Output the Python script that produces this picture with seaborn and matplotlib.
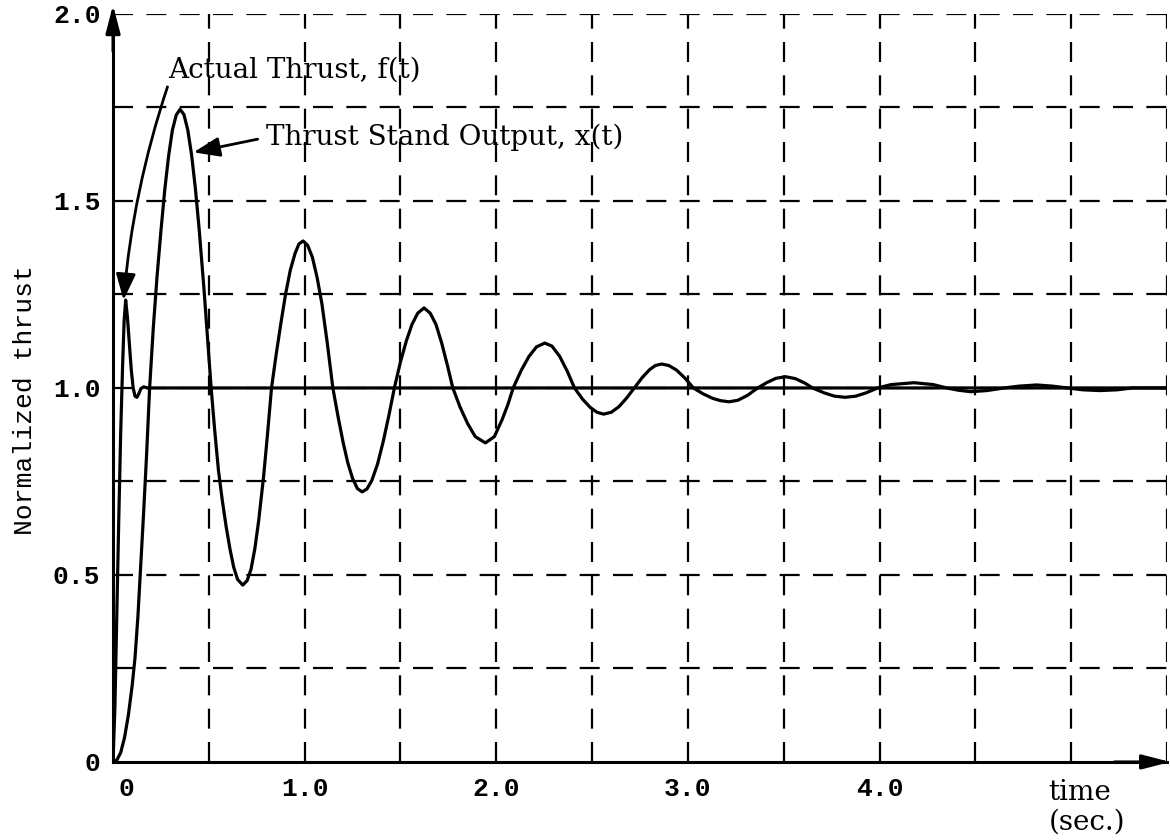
import matplotlib
matplotlib.use("Agg")
import matplotlib.pyplot as plt
import matplotlib.transforms as mtransforms
import seaborn as sns

sns.set_style("white")
plt.rcParams.update({"text.color": "black", "axes.labelcolor": "black",
                     "xtick.color": "black", "ytick.color": "black"})

# -------------------------------Datos

# Thrust stand output x(t)
t_stand = [
    0.000, 0.020, 0.040, 0.060, 0.080, 0.100, 0.115, 0.130, 0.145, 0.160, 0.175, 0.191,
    0.210, 0.230, 0.250, 0.270, 0.290, 0.310, 0.330, 0.350,
    0.370, 0.390, 0.410, 0.430, 0.450, 0.475, 0.495, 0.512,
    0.530, 0.550, 0.570, 0.590, 0.610, 0.630, 0.650, 0.677,
    0.700, 0.720, 0.740, 0.760, 0.786, 0.805, 0.827,
    0.850, 0.875, 0.900, 0.925, 0.950, 0.970, 0.992,
    1.015, 1.040, 1.065, 1.090, 1.118, 1.147,
    1.175, 1.200, 1.225, 1.250, 1.275, 1.300,
    1.325, 1.350, 1.380, 1.410, 1.440, 1.468,
    1.500, 1.530, 1.560, 1.590, 1.623,
    1.655, 1.685, 1.715, 1.745, 1.773,
    1.810, 1.850, 1.890, 1.943,
    1.990, 2.030, 2.060, 2.088,
    2.130, 2.170, 2.210, 2.253,
    2.290, 2.330, 2.370, 2.408,
    2.450, 2.490, 2.525, 2.560,
    2.600, 2.640, 2.680, 2.720,
    2.760, 2.800, 2.830, 2.863,
    2.900, 2.940, 2.985, 3.028,
    3.080, 3.130, 3.170, 3.214,
    3.260, 3.310, 3.364,
    3.410, 3.460, 3.510,
    3.560, 3.610, 3.650,
    3.710, 3.765, 3.820,
    3.875, 3.930, 3.990,
    4.060, 4.180, 4.280, 4.350,
    4.410, 4.475, 4.560, 4.650,
    4.730, 4.820, 4.900, 4.980,
    5.060, 5.150, 5.240, 5.320, 5.500,
]
x_stand = [
    0.00, 0.005, 0.025, 0.065, 0.125, 0.205, 0.28, 0.39, 0.53, 0.67, 0.82, 1.00,
    1.16, 1.30, 1.42, 1.53, 1.62, 1.69, 1.73, 1.745,
    1.731, 1.69, 1.623, 1.532, 1.421, 1.262, 1.122, 1.00,
    0.89, 0.78, 0.70, 0.63, 0.57, 0.52, 0.488, 0.473,
    0.485, 0.515, 0.57, 0.645, 0.765, 0.87, 1.00,
    1.085, 1.17, 1.25, 1.315, 1.36, 1.385, 1.393,
    1.382, 1.35, 1.295, 1.225, 1.12, 1.00,
    0.921, 0.856, 0.80, 0.758, 0.731, 0.722,
    0.73, 0.752, 0.796, 0.857, 0.928, 1.00,
    1.07, 1.125, 1.17, 1.20, 1.214,
    1.20, 1.17, 1.12, 1.06, 1.00,
    0.95, 0.905, 0.87, 0.853,
    0.87, 0.915, 0.955, 1.00,
    1.047, 1.084, 1.11, 1.12,
    1.112, 1.085, 1.045, 1.00,
    0.97, 0.948, 0.935, 0.93,
    0.935, 0.95, 0.973, 1.00,
    1.027, 1.049, 1.06, 1.064,
    1.06, 1.048, 1.026, 1.00,
    0.984, 0.972, 0.966, 0.963,
    0.967, 0.98, 1.00,
    1.014, 1.026, 1.03,
    1.025, 1.013, 1.00,
    0.987, 0.978, 0.975,
    0.978, 0.987, 1.00,
    1.009, 1.014, 1.009, 1.00,
    0.994, 0.99, 0.993, 1.00,
    1.005, 1.008, 1.005, 1.00,
    0.995, 0.993, 0.995, 1.00, 1.00,
]

# Actual thrust f(t)
t_actual = [0.000, 0.010, 0.020, 0.030, 0.040, 0.050, 0.058, 0.066, 0.075, 0.085,
            0.095, 0.105, 0.115, 0.125, 0.135, 0.145, 0.160, 0.180, 5.500]
f_actual = [0.00, 0.15, 0.40, 0.65, 0.88, 1.06, 1.18, 1.235, 1.19, 1.12,
            1.05, 1.00, 0.978, 0.975, 0.985, 0.998, 1.003, 1.00, 1.00]

x_ticks = [0, 1.0, 2.0, 3.0, 4.0]
x_tick_labels = ["0", "1.0", "2.0", "3.0", "4.0"]
y_ticks = [0, 0.5, 1.0, 1.5, 2.0]
y_tick_labels = ["0", "0.5", "1.0", "1.5", "2.0"]
x_grid = [0.5, 1.0, 1.5, 2.0, 2.5, 3.0, 3.5, 4.0, 4.5, 5.0, 5.5]
y_grid = [0.25, 0.5, 0.75, 1.0, 1.25, 1.5, 1.75, 2.0]

mono = "Liberation Mono"
serif = "DejaVu Serif"

# -------------------------------Figura
fig = plt.figure(figsize=(11.7, 8.4), dpi=100)
ax = fig.add_axes([0.0966, 0.0929, 0.9009, 0.8905])

grid_style = dict(color="black", lw=1.6, linestyle=(0, (9, 6)), zorder=1)
for gx in x_grid:
    ax.axvline(gx, **grid_style)
for gy in y_grid:
    ax.axhline(gy, **grid_style)

sns.lineplot(x=t_actual, y=f_actual, ax=ax, color="black", lw=2.3,
             sort=False, estimator=None, zorder=3)
sns.lineplot(x=t_stand, y=x_stand, ax=ax, color="black", lw=2.3,
             sort=False, estimator=None, zorder=3)

ax.set_xlim(0, 5.5)
ax.set_ylim(0, 2.0)

# Ejes con flechas
for side in ["top", "right"]:
    ax.spines[side].set_visible(False)
for side in ["left", "bottom"]:
    ax.spines[side].set_linewidth(2.2)
    ax.spines[side].set_color("black")

flecha = dict(arrowstyle="-|>,head_length=0.85,head_width=0.22", color="black",
              lw=2.2, shrinkA=0, shrinkB=0, mutation_scale=20)
ax.annotate("", xy=(1.003, 0), xytext=(0.95, 0), xycoords="axes fraction",
            arrowprops=flecha, annotation_clip=False)
ax.annotate("", xy=(0, 1.012), xytext=(0, 0.95), xycoords="axes fraction",
            arrowprops=flecha, annotation_clip=False)

ax.set_xticks(x_ticks)
ax.set_xticklabels(x_tick_labels, family=mono, fontsize=19, fontweight="bold")
ax.set_yticks(y_ticks)
ax.set_yticklabels(y_tick_labels, family=mono, fontsize=19, fontweight="bold")
ax.tick_params(axis="x", length=0, pad=11)
ax.tick_params(axis="y", length=0, pad=9)

ax.set_ylabel("Normalized thrust", family=mono, fontsize=19)
ax.yaxis.set_label_coords(-0.072, 0.484)

# Etiqueta del eje de tiempo
ax.text(4.88, -0.045, "time\n(sec.)", family=serif, fontsize=20, color="black",
        ha="left", va="top", linespacing=1.15, clip_on=False)

# Anotaciones
ax.annotate("Actual Thrust, f(t)", xy=(0.055, 1.235), xytext=(0.29, 1.85),
            family=serif, fontsize=20, color="black", ha="left", va="center",
            arrowprops=dict(arrowstyle="-|>,head_length=0.8,head_width=0.3",
                            color="black", lw=2.0, relpos=(0, 0), shrinkA=0, shrinkB=0,
                            connectionstyle="arc3,rad=0.06"))
ax.annotate("Thrust Stand Output, x(t)", xy=(0.42, 1.63), xytext=(0.80, 1.67),
            family=serif, fontsize=20, color="black", ha="left", va="center",
            arrowprops=dict(arrowstyle="-|>,head_length=0.8,head_width=0.3",
                            color="black", lw=2.0, relpos=(0, 0.5), shrinkA=4, shrinkB=0))

# Desplazar la etiqueta "0" del eje x un poco a la derecha
lab0 = ax.get_xticklabels()[0]
lab0.set_transform(lab0.get_transform() + mtransforms.ScaledTranslation(10 / 72, 0, fig.dpi_scale_trans))

plt.savefig("out.png", dpi=100)
